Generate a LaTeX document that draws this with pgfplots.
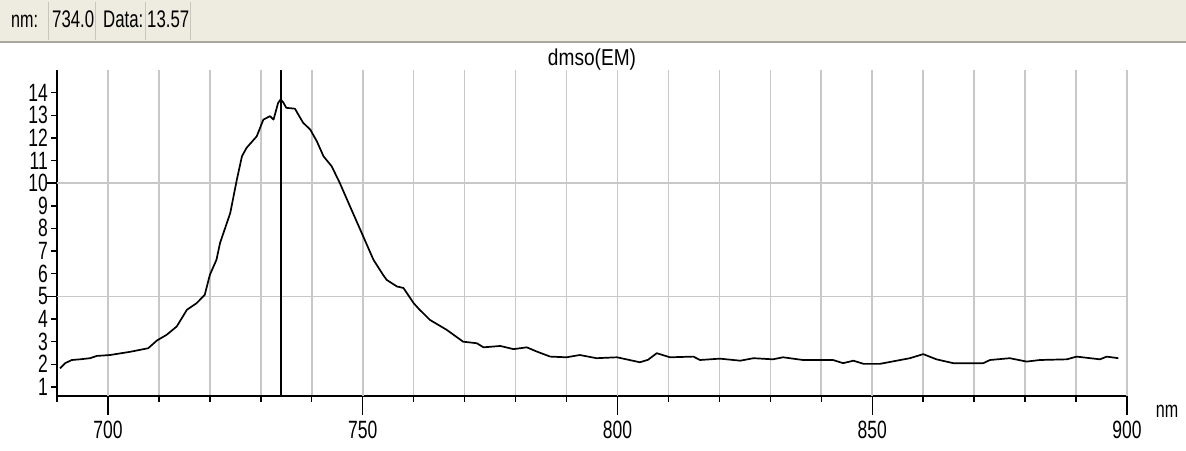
\documentclass[border=0pt]{standalone}
\usepackage{pgfplots}
\pgfplotsset{compat=1.18}
\usepackage{fontspec}
\setmainfont{Liberation Sans}[FakeStretch=0.7]
\newfontfamily\titlefont{Liberation Sans}[FakeStretch=0.83]
\definecolor{barbg}{RGB}{238,236,224}
\definecolor{gridc}{RGB}{200,200,200}
\begin{document}
\begin{tikzpicture}[x=1pt,y=1pt]
\useasboundingbox (0,0) rectangle (1186,450);
\fill[barbg] (0,409) rectangle (1186,450);
\draw[line width=2pt, draw={rgb,255:red,170;green,168;blue,158}] (0,408) -- (1186,408);
\foreach \xx in {48,95,145,190} {\draw[line width=1pt, draw={rgb,255:red,200;green,198;blue,186}] (\xx,410) -- (\xx,448);}
\node[font=\fontsize{23}{23}\selectfont, anchor=base west, inner sep=0] at (11,422) {nm:};
\node[font=\fontsize{24}{24}\selectfont, anchor=base west, inner sep=0] at (52,422) {734.0};
\node[font=\fontsize{24}{24}\selectfont, anchor=base west, inner sep=0] at (103,422) {Data:};
\node[font=\fontsize{24}{24}\selectfont, anchor=base west, inner sep=0] at (147,422) {13.57};
\begin{axis}[
  at={(57pt,54pt)}, anchor=south west,
  scale only axis, width=1070pt, height=326pt,
  xmin=690, xmax=900, ymin=0.6, ymax=15.0,
  axis x line=bottom, axis y line=left,
  axis line style={-, line width=1.8pt, black},
  tick align=outside,
  major tick length=6pt,
  tick style={black, line width=1.4pt},
  xtick={690,700,...,900}, xticklabels={},
  xmajorgrids=true,
  grid style={gridc, line width=1.6pt},
  extra x ticks={700,750,800,850,900},
  extra x tick style={major tick length=19pt, grid=major, tick style={black, line width=1.4pt}},
  ytick={1,...,14},
  extra y ticks={5,10}, extra y tick labels={},
  extra y tick style={grid=major, major tick length=11pt, tick style={black, line width=1.4pt}},
  ymajorgrids=false,
  /pgf/number format/assume math mode=true,
  ticklabel style={font=\fontsize{25}{25}\selectfont},
  yticklabel style={inner sep=0pt, xshift=-3pt, text height=17pt, text depth=0pt, anchor=east, yshift=0pt},
  xticklabel style={yshift=-3pt},
  clip=false,
]
\addplot[black, line width=1.6pt] coordinates {(734,0.6) (734,15.0)};
\addplot[black, line width=1.7pt, line join=round] coordinates {
(690.6,1.82) (691.6,2.05) (692.9,2.19) (694.5,2.22) (696.5,2.27) (697.8,2.37)
(700.4,2.41) (704.3,2.55) (707.9,2.71) (709.6,3.05) (711.5,3.30) (713.5,3.67)
(715.5,4.41) (717.4,4.70) (719.0,5.07) (720.0,5.95) (721.3,6.62) (722.0,7.36)
(724.0,8.68) (725.3,10.16) (726.3,11.19) (727.2,11.56) (729.2,12.07) (730.5,12.81)
(731.8,12.96) (732.5,12.81) (733.4,13.55) (733.9,13.70) (734.4,13.57) (735.0,13.33)
(736.7,13.29) (738.3,12.67) (739.7,12.37) (741.0,11.85) (742.3,11.19) (743.9,10.75)
(745.5,10.01) (747.5,8.98) (750.1,7.65) (752.1,6.62) (754.0,5.95) (754.7,5.73)
(756.7,5.44) (758.0,5.37) (760.0,4.70) (761.0,4.45) (763.2,3.96) (766.5,3.52)
(769.7,3.00) (772.4,2.93) (773.7,2.75) (777.0,2.81) (779.6,2.67) (782.2,2.75)
(784.2,2.56) (786.8,2.34) (790.0,2.31) (792.6,2.41) (795.9,2.27) (799.9,2.31)
(804.4,2.09) (806.0,2.20) (807.7,2.49) (810.3,2.31) (814.9,2.34) (816.2,2.19)
(820.1,2.25) (824.1,2.16) (826.7,2.27) (830.5,2.22) (832.5,2.31) (836.4,2.19)
(842.3,2.19) (844.3,2.05) (846.3,2.16) (848.3,2.02) (851.5,2.02) (854.8,2.16)
(857.4,2.27) (860.0,2.45) (862.6,2.22) (865.9,2.05) (871.8,2.05) (873.1,2.19)
(877.0,2.27) (880.3,2.12) (882.9,2.19) (888.2,2.22) (890.1,2.34) (894.7,2.22)
(896.0,2.34) (898.3,2.27)
};
\end{axis}
\node[font=\titlefont\fontsize{23}{23}\selectfont] at (592,390) {dmso(EM)};
\node[font=\fontsize{23}{23}\selectfont] at (1167,39) {nm};
\end{tikzpicture}
\end{document}
